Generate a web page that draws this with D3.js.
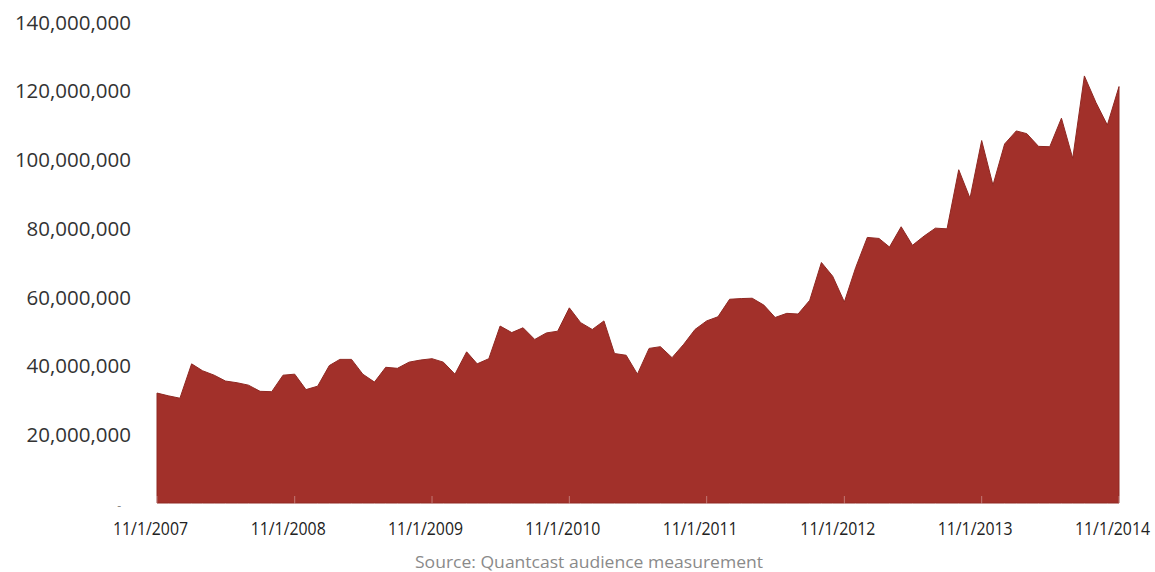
<!DOCTYPE html>
<html>
<head>
<meta charset="utf-8">
<script src="https://cdn.jsdelivr.net/npm/d3@7"></script>
<style>
  html, body { margin: 0; padding: 0; background: #ffffff; }
  svg { display: block; }
</style>
</head>
<body>
<svg id="chart" width="1155" height="572"></svg>
<script>
// Monthly audience, Nov 2007 through Nov 2014 (millions of people)
const startMonth = "2007-11-01";
const audienceMillions = [
  32, 31.2, 30.5, 40.5, 38.5, 37.2, 35.5, 35, 34.3, 32.5, 32.4, 37.2,
  37.5, 33, 34, 40, 41.8, 41.8, 37.5, 35.2, 39.5, 39.2, 41, 41.6,
  42, 41, 37.5, 44, 40.5, 42, 51.5, 49.6, 51, 47.6, 49.5, 50,
  56.8, 52.5, 50.5, 53, 43.5, 43, 37.5, 45, 45.5, 42.3, 46.2, 50.5,
  53, 54.2, 59.3, 59.5, 59.6, 57.6, 54, 55.2, 55, 59, 70, 66,
  58.5, 68.5, 77.3, 77, 74.5, 80.4, 75, 77.7, 80, 79.8, 97, 88.7,
  105.5, 92.5, 104.5, 108.3, 107.5, 103.8, 103.7, 112, 100.3, 124.3, 116.5, 110,
  121.2
];
const xTickLabels = ["11/1/2007", "11/1/2008", "11/1/2009", "11/1/2010",
                     "11/1/2011", "11/1/2012", "11/1/2013", "11/1/2014"];
const yTickValues = [0, 20e6, 40e6, 60e6, 80e6, 100e6, 120e6, 140e6];
const sourceNote = "Source: Quantcast audience measurement";

const parse = d3.utcParse("%Y-%m-%d");
const first = parse(startMonth);
const months = audienceMillions.map((_, i) => d3.utcMonth.offset(first, i));
const data = months.map((m, i) => ({ date: m, value: audienceMillions[i] * 1e6 }));
const tickDates = xTickLabels.map(s => d3.utcParse("%m/%d/%Y")(s));

const svg = d3.select("#chart");
const plot = { left: 157, right: 1119, top: 22, bottom: 503 };

const x = d3.scaleUtc()
  .domain([months[0], months[months.length - 1]])
  .range([plot.left, plot.right]);
const y = d3.scaleLinear().domain([0, 140e6]).range([plot.bottom, plot.top]);

// Filled audience area
const area = d3.area()
  .x(d => x(d.date))
  .y0(y(0))
  .y1(d => y(d.value));

svg.append("path")
  .datum(data)
  .attr("d", area)
  .attr("fill", "#a2302a")
  .attr("stroke", "#8f2822")
  .attr("stroke-width", 1)
  .attr("stroke-linejoin", "round");

// Faint year ticks along the bottom of the fill
svg.append("g")
  .selectAll("line")
  .data(tickDates)
  .join("line")
  .attr("x1", d => x(d)).attr("x2", d => x(d))
  .attr("y1", plot.bottom - 7).attr("y2", plot.bottom)
  .attr("stroke", "#ffffff")
  .attr("stroke-opacity", 0.35)
  .attr("stroke-width", 1);

// Y axis labels (accounting style: zero shown as a dash)
const yFmt = d3.format(",");
const yAxis = d3.axisLeft(y)
  .tickValues(yTickValues)
  .tickSize(0)
  .tickPadding(0)
  .tickFormat(v => v === 0 ? "-" : yFmt(v));

const gy = svg.append("g")
  .attr("transform", "translate(131,0)")
  .call(yAxis);
gy.select(".domain").remove();
gy.selectAll("text")
  .attr("font-family", "'Open Sans', 'Noto Sans', sans-serif")
  .attr("font-size", 20.5)
  .attr("fill", "#333")
  .attr("dy", "0.35em");
gy.selectAll(".tick")
  .filter(d => d === 0)
  .select("text")
  .attr("x", -10)
  .attr("dy", "0.55em")
  .attr("font-size", 12)
  .attr("fill", "#888");

// X axis labels at each November, set in a condensed width
const xAxis = d3.axisBottom(x)
  .tickValues(tickDates)
  .tickSize(0)
  .tickPadding(0)
  .tickFormat((d, i) => xTickLabels[i]);

const gx = svg.append("g")
  .attr("transform", "translate(0,521)")
  .call(xAxis);
gx.select(".domain").remove();
gx.selectAll("text")
  .attr("font-family", "'Open Sans', 'Noto Sans', sans-serif")
  .attr("font-size", 19)
  .attr("fill", "#222")
  .attr("dx", -7)
  .attr("dy", "0.71em")
  .attr("textLength", 75)
  .attr("lengthAdjust", "spacingAndGlyphs");

// Source note
svg.append("text")
  .attr("x", 589)
  .attr("y", 568)
  .attr("text-anchor", "middle")
  .attr("font-family", "'Open Sans', 'Noto Sans', sans-serif")
  .attr("font-size", 17)
  .attr("fill", "#8a8a8a")
  .attr("textLength", 348)
  .attr("lengthAdjust", "spacingAndGlyphs")
  .text(sourceNote);
</script>
</body>
</html>
